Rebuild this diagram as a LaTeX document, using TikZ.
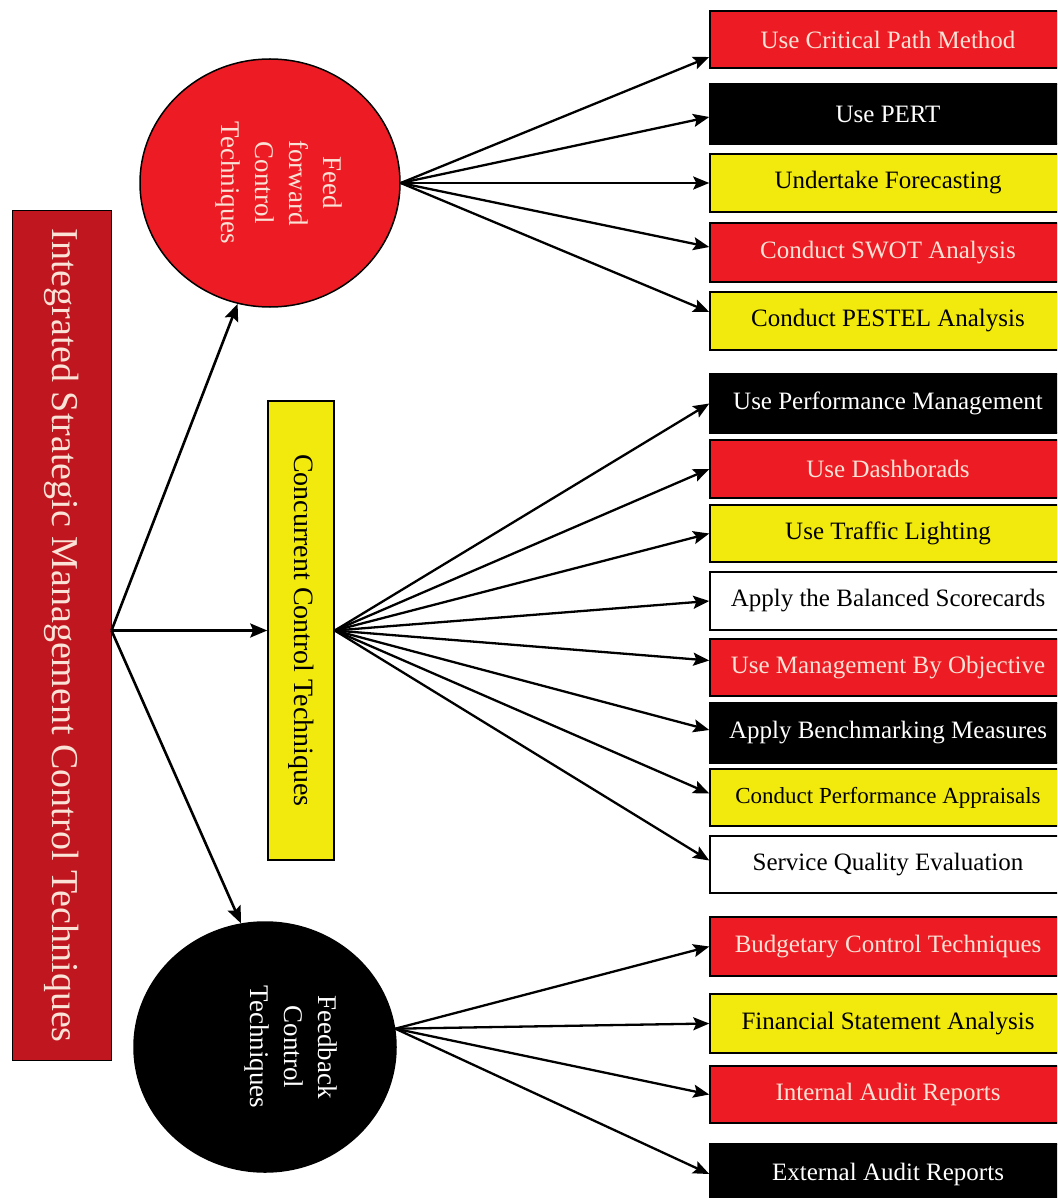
\documentclass[tikz,border=0pt]{standalone}
\usepackage{fontspec}
\setmainfont{Liberation Serif}
\usetikzlibrary{arrows.meta,shapes.geometric}
\definecolor{boxred}{RGB}{237,28,36}
\definecolor{mainred}{RGB}{192,22,32}
\definecolor{boxyellow}{RGB}{242,234,12}
\definecolor{pinkwhite}{RGB}{250,226,214}
\begin{document}
\begin{tikzpicture}[x=1pt,y=-1pt,
  itembox/.style={draw=black, line width=1.5pt, minimum width=356pt, minimum height=58pt, inner sep=0pt, font=\fontsize{25}{30}\selectfont},
  redbox/.style={itembox, fill=boxred, text=pinkwhite},
  blackbox/.style={itembox, fill=black, text=white},
  yellowbox/.style={itembox, fill=boxyellow, text=black},
  whitebox/.style={itembox, fill=white, text=black},
  ovalnode/.style={ellipse, draw=black, line width=1.5pt, inner sep=0pt},
  ovaltext/.style={rotate=-90, align=center, font=\fontsize{27}{34}\selectfont},
  fan/.style={line width=2.3pt, -{Stealth[length=16pt,width=13pt,inset=3pt]}},
  trunk/.style={line width=2.6pt, -{Stealth[length=17pt,width=14pt,inset=3pt]}}
]
\clip (0,0) rectangle (1057,1198);
\fill[white] (0,0) rectangle (1057,1198);

% main box
\node[draw=black, line width=1pt, fill=mainred, minimum width=99pt, minimum height=849pt, inner sep=0pt, text=pinkwhite, font=\fontsize{38}{40}\selectfont] (main) at (61.5,635.5) {\rotatebox{-90}{Integrated Strategic Management Control Techniques}};

% second level
\node[ovalnode, fill=boxred, minimum width=260pt, minimum height=248pt] (ff) at (270,183) {};
\node[ovaltext, text=pinkwhite] (fftext) at (279,183) {Feed\\forward\\Control\\Techniques};

\node[draw=black, line width=1.5pt, fill=boxyellow, minimum width=66pt, minimum height=459pt, inner sep=0pt, font=\fontsize{28}{32}\selectfont] (conc) at (301,630.5) {\rotatebox{-90}{Concurrent Control Techniques}};

\node[ovalnode, fill=black, minimum width=262pt, minimum height=250pt] (fb) at (265,1047) {};
\node[ovaltext, text=white] (fbtext) at (291,1047) {Feedback\\Control\\Techniques};

% items
\node[redbox, minimum height=57pt] (cp) at (888,39.5) {Use Critical Path Method};
\node[blackbox, minimum height=60pt] (pert) at (888,114) {Use PERT};
\node[yellowbox] (uf) at (888,183) {Undertake Forecasting};
\node[redbox, minimum height=59pt] (swot) at (888,252.5) {Conduct SWOT Analysis};
\node[yellowbox] (pestel) at (888,321) {Conduct PESTEL Analysis};

\node[blackbox, minimum height=59pt] (pm) at (888,403.5) {Use Performance Management};
\node[redbox] (dash) at (888,469) {Use Dashborads};
\node[yellowbox, minimum height=57pt] (traffic) at (888,533.5) {Use Traffic Lighting};
\node[whitebox] (bsc) at (888,601) {Apply the Balanced Scorecards};
\node[redbox, minimum height=57pt] (mbo) at (888,667.5) {Use Management By Objective};
\node[blackbox, minimum height=60pt] (bench) at (888,733) {Apply Benchmarking Measures};
\node[yellowbox, minimum height=57pt, font=\fontsize{23}{28}\selectfont] (appr) at (888,797.5) {Conduct Performance Appraisals};
\node[whitebox, minimum height=57pt] (sqe) at (888,864.5) {Service Quality Evaluation};

\node[redbox, minimum height=59pt] (budg) at (888,946.5) {Budgetary Control Techniques};
\node[yellowbox, minimum height=59pt] (fin) at (888,1023.5) {Financial Statement Analysis};
\node[redbox, minimum height=57pt] (ia) at (888,1094.5) {Internal Audit Reports};
\node[blackbox, minimum height=60pt] (ext) at (888,1174) {External Audit Reports};

% trunk arrows
\coordinate (src) at (main.east |- conc.west);
\draw[trunk] (src) -- (ff.-105);
\draw[trunk] (src) -- (conc.west);
\draw[trunk] (src) -- (fb.101);

% fans
\foreach \n/\s in {cp/-17.5, pert/-3, uf/0, swot/5.5, pestel/9}
  \draw[fan] (ff.east) -- ([yshift=\s pt]\n.west);
\foreach \n/\s in {pm/0, dash/0, traffic/0, bsc/0, mbo/7, bench/3, appr/4, sqe/4}
  \draw[fan] (conc.east) -- ([yshift=\s pt]\n.west);
\foreach \n in {budg, fin, ia, ext}
  \draw[fan] (fb.8) -- (\n.west);
\end{tikzpicture}
\end{document}
